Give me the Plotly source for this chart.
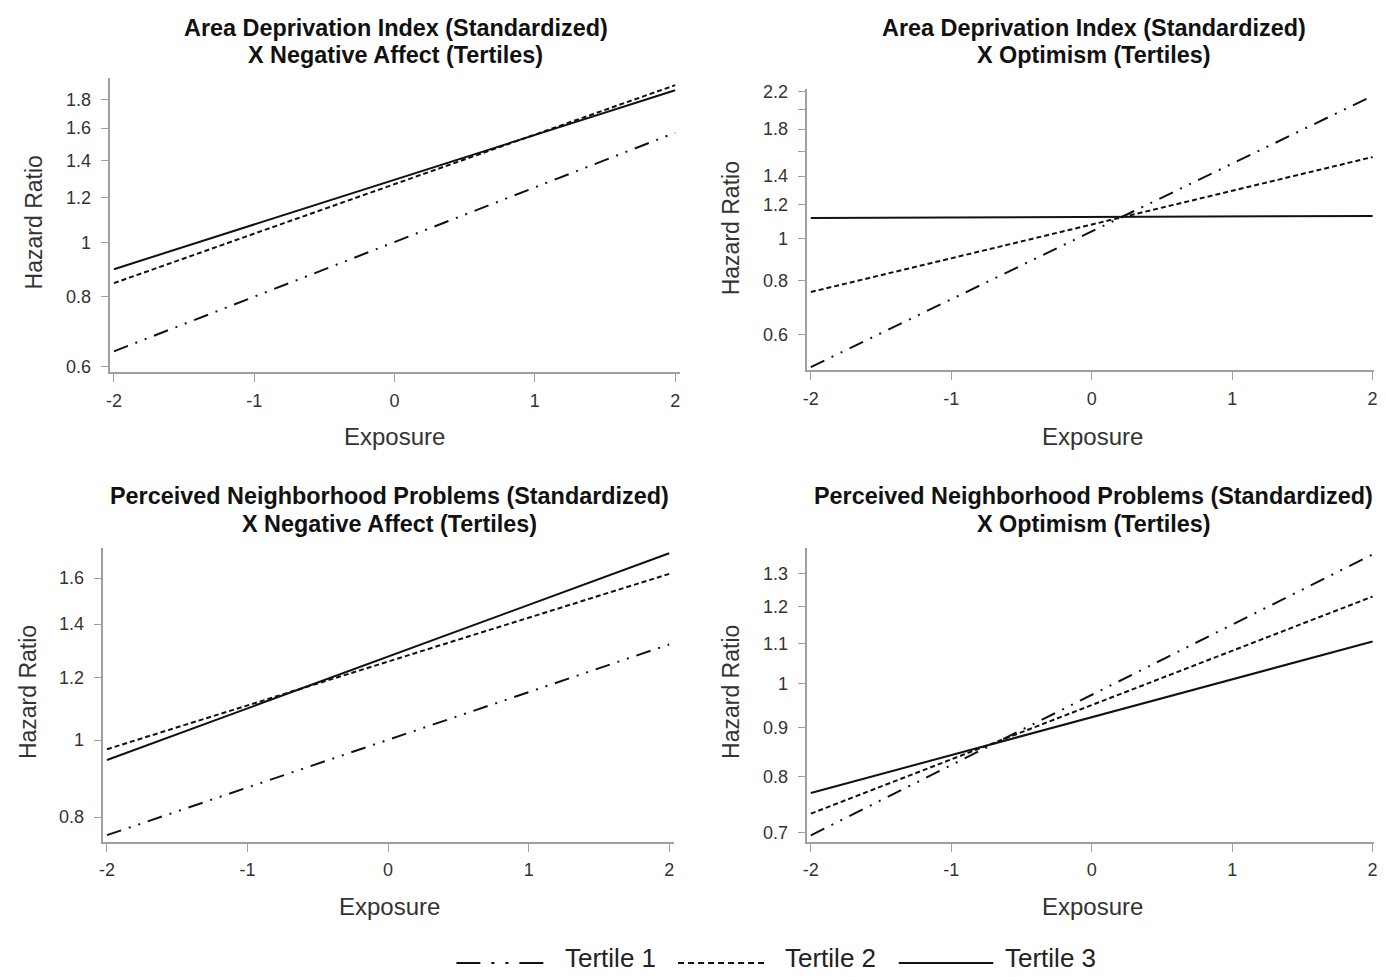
import math
import plotly.graph_objects as go

# ---------------- data ----------------
exposure = [-2, 2]
tertiles = ["Tertile 1", "Tertile 2", "Tertile 3"]

title_line1 = [
    "Area Deprivation Index (Standardized)",
    "Area Deprivation Index (Standardized)",
    "Perceived Neighborhood Problems (Standardized)",
    "Perceived Neighborhood Problems (Standardized)",
]
title_line2 = [
    "X Negative Affect (Tertiles)",
    "X Optimism (Tertiles)",
    "X Negative Affect (Tertiles)",
    "X Optimism (Tertiles)",
]

# hazard ratios at exposure = -2 and +2 (lines are straight on a log axis)
adi_na_t1 = [0.638, 1.57]
adi_na_t2 = [0.845, 1.91]
adi_na_t3 = [0.895, 1.87]

adi_opt_t1 = [0.504, 2.15]
adi_opt_t2 = [0.753, 1.55]
adi_opt_t3 = [1.119, 1.131]

pnp_na_t1 = [0.759, 1.32]
pnp_na_t2 = [0.974, 1.62]
pnp_na_t3 = [0.944, 1.72]

pnp_opt_t1 = [0.696, 1.36]
pnp_opt_t2 = [0.733, 1.23]
pnp_opt_t3 = [0.770, 1.105]

x_ticks = [-2, -1, 0, 1, 2]
x_ticktext = ["-2", "-1", "0", "1", "2"]

y_ticks_a = [0.6, 0.8, 1, 1.2, 1.4, 1.6, 1.8]
y_text_a = ["0.6", "0.8", "1", "1.2", "1.4", "1.6", "1.8"]
y_ticks_b = [0.6, 0.8, 1, 1.2, 1.4, 1.6, 1.8, 2.0, 2.2]
y_text_b = ["0.6", "0.8", "1", "1.2", "1.4", "", "1.8", "", "2.2"]
y_ticks_c = [0.8, 1, 1.2, 1.4, 1.6]
y_text_c = ["0.8", "1", "1.2", "1.4", "1.6"]
y_ticks_d = [0.7, 0.8, 0.9, 1, 1.1, 1.2, 1.3]
y_text_d = ["0.7", "0.8", "0.9", "1", "1.1", "1.2", "1.3"]

panels = [
    (adi_na_t1, adi_na_t2, adi_na_t3),
    (adi_opt_t1, adi_opt_t2, adi_opt_t3),
    (pnp_na_t1, pnp_na_t2, pnp_na_t3),
    (pnp_opt_t1, pnp_opt_t2, pnp_opt_t3),
]
yticks = [(y_ticks_a, y_text_a), (y_ticks_b, y_text_b), (y_ticks_c, y_text_c), (y_ticks_d, y_text_d)]

# ---------------- layout geometry (target picture pixels) ----------------
OFF = 8                      # default body margin of the page
W, H = 1386 - 2 * OFF, 977
SY, EY = 0.9895, 6.4         # measured vertical mapping of the photographed page


def px(x):
    return min(1.0, max(0.0, (x - OFF) / W))


def py(y):
    ycss = (y - EY) / SY - OFF
    return min(1.0, max(0.0, 1 - ycss / H))


FONT = "Liberation Sans, Arial, sans-serif"
# (x0, x1, ytop, ybottom) of each plot area
boxes = [(107, 680, 77, 372), (808, 1378, 88, 370), (100, 674, 548, 842), (808, 1378, 548, 842)]
xranges = [(-2.025, 2.035), (-2.025, 2.01), (-2.025, 2.035), (-2.025, 2.01)]
yranges = [(0.585, 1.97), (0.495, 2.235), (0.744, 1.745), (0.685, 1.38)]
title_pos = [(394, 27, 54), (1096, 27, 54), (388, 496, 524), (1096, 496, 524)]
ylab_pos = [(30, 222), (731, 228), (24, 692), (731, 692)]
xlab_pos = [(393, 436), (1095, 436), (388, 906), (1095, 906)]

dashes = ["15px,8px,2px,8px,2px,8px", "5px,3px", "solid"]
LINE = "#111111"
AX = "#a0a0a0"

fig = go.Figure()
layout = dict(
    width=W, height=H,
    margin=dict(l=0, r=0, t=0, b=0),
    paper_bgcolor="white", plot_bgcolor="white",
    showlegend=False,
    font=dict(family=FONT, color="#222"),
)
annotations = []
shapes = []

for i, (series, (tv, tt)) in enumerate(zip(panels, yticks)):
    n = "" if i == 0 else str(i + 1)
    xa, ya = "x" + n, "y" + n
    for s, d, name in zip(series, dashes, tertiles):
        fig.add_trace(go.Scatter(
            x=exposure, y=s, mode="lines", name=name, xaxis=xa, yaxis=ya,
            line=dict(color=LINE, width=2, dash=d), showlegend=False, cliponaxis=False,
        ))
    x0, x1, yt, yb = boxes[i]
    layout["xaxis" + n] = dict(
        domain=[px(x0), px(x1)], anchor=ya, range=list(xranges[i]),
        tickvals=x_ticks, ticktext=x_ticktext, ticks="outside", ticklen=8,
        tickcolor=AX, showline=True, linecolor=AX, linewidth=1.5,
        showgrid=False, zeroline=False, ticklabelstandoff=3, ticklabeloverflow="allow",
        tickfont=dict(size=18, color="#333", family=FONT),
    )
    lo, hi = yranges[i]
    layout["yaxis" + n] = dict(
        domain=[py(yb), py(yt)], anchor=xa, type="log",
        range=[math.log10(lo), math.log10(hi)],
        tickvals=tv, ticktext=tt, ticks="outside", ticklen=8,
        tickcolor=AX, showline=True, linecolor=AX, linewidth=1.5,
        showgrid=False, zeroline=False, ticklabelstandoff=6,
        tickfont=dict(size=18, color="#333", family=FONT),
    )
    tx, ty1, ty2 = title_pos[i]
    for txt, ty in ((title_line1[i], ty1), (title_line2[i], ty2)):
        annotations.append(dict(
            text="<b>" + txt + "</b>", x=px(tx), y=py(ty), xref="paper", yref="paper",
            showarrow=False, font=dict(size=23.4, color="#111", family=FONT),
            xanchor="center", yanchor="middle",
        ))
    lx, ly = ylab_pos[i]
    annotations.append(dict(
        text="Hazard Ratio", x=px(lx), y=py(ly), xref="paper", yref="paper",
        showarrow=False, textangle=-90, font=dict(size=23, color="#333", family=FONT),
        xanchor="center", yanchor="middle",
    ))
    ex, ey = xlab_pos[i]
    annotations.append(dict(
        text="Exposure", x=px(ex), y=py(ey), xref="paper", yref="paper",
        showarrow=False, font=dict(size=24, color="#333", family=FONT),
        xanchor="center", yanchor="middle",
    ))

# ---------------- legend (drawn) ----------------
leg_line_y = 963
leg_text_bottom = 975
leg_items = [(455, 545, 562), (678, 768, 784), (900, 995, 1005)]
leg_dashes = ["24px,11px,3px,11px,3px,11px", "6px,4px", "solid"]
for (lx0, lx1, tx), d, name in zip(leg_items, leg_dashes, tertiles):
    shapes.append(dict(
        type="line", xref="paper", yref="paper", x0=px(lx0), x1=px(lx1),
        y0=py(leg_line_y), y1=py(leg_line_y), line=dict(color=LINE, width=2, dash=d),
    ))
    annotations.append(dict(
        text=name, x=px(tx), y=py(leg_text_bottom), xref="paper", yref="paper", showarrow=False,
        font=dict(size=26, color="#222", family=FONT), xanchor="left", yanchor="bottom",
    ))

layout["annotations"] = annotations
layout["shapes"] = shapes
fig.update_layout(**layout)
fig.write_html("out.html")
